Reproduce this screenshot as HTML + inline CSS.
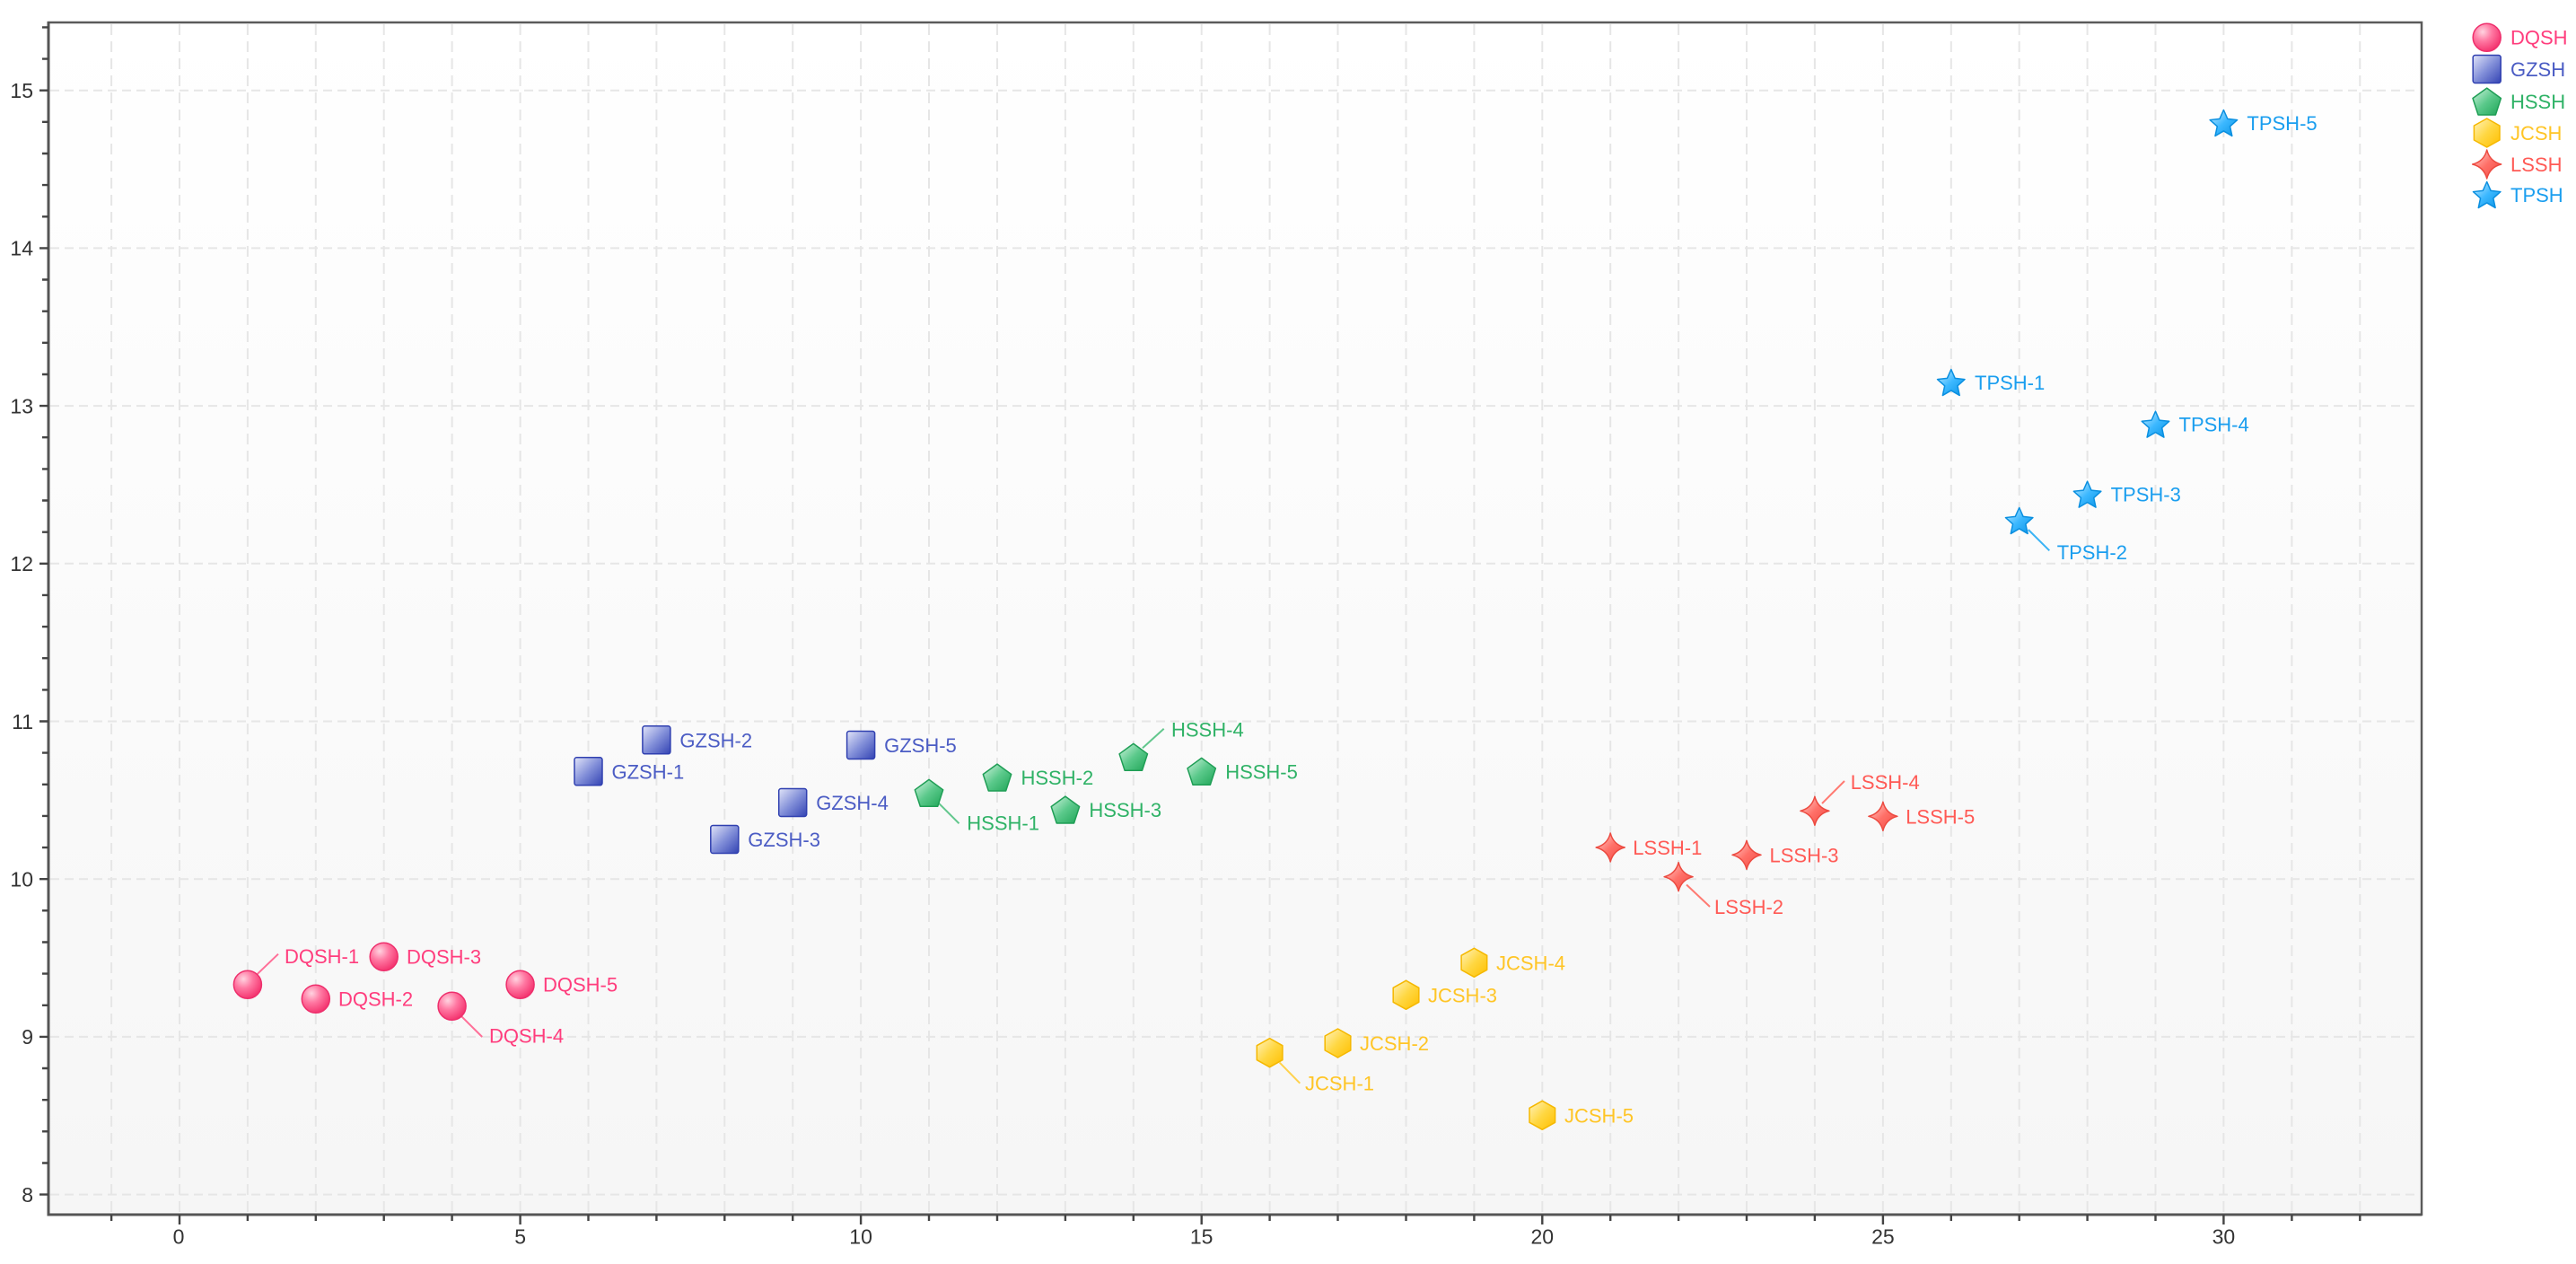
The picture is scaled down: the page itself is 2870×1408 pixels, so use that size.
<!DOCTYPE html>
<html>
<head>
<meta charset="utf-8">
<style>
html,body{margin:0;padding:0;background:#ffffff;}
svg{display:block;}
text{font-family:"Liberation Sans","DejaVu Sans",sans-serif;}
</style>
</head>
<body>
<svg width="2870" height="1408" viewBox="0 0 2870 1408" xmlns="http://www.w3.org/2000/svg">
<defs>
  <linearGradient id="bg" x1="0" y1="0" x2="0" y2="1">
    <stop offset="0" stop-color="#ffffff"/>
    <stop offset="1" stop-color="#f6f6f6"/>
  </linearGradient>
  <radialGradient id="gC" cx="0.35" cy="0.3" r="0.75">
    <stop offset="0" stop-color="#ffd3e0"/>
    <stop offset="0.45" stop-color="#ff78a2"/>
    <stop offset="1" stop-color="#f3306c"/>
  </radialGradient>
  <linearGradient id="gS" x1="0" y1="0" x2="1" y2="1">
    <stop offset="0" stop-color="#e2e5f8"/>
    <stop offset="0.5" stop-color="#8390d9"/>
    <stop offset="1" stop-color="#3343b3"/>
  </linearGradient>
  <linearGradient id="gP" x1="0" y1="0" x2="1" y2="1">
    <stop offset="0" stop-color="#d2f3df"/>
    <stop offset="0.5" stop-color="#5bc98b"/>
    <stop offset="1" stop-color="#1fa557"/>
  </linearGradient>
  <linearGradient id="gH" x1="0" y1="0" x2="1" y2="1">
    <stop offset="0" stop-color="#fff3c0"/>
    <stop offset="0.5" stop-color="#ffd742"/>
    <stop offset="1" stop-color="#ffbf00"/>
  </linearGradient>
  <linearGradient id="gL" x1="0" y1="0" x2="1" y2="1">
    <stop offset="0" stop-color="#ffd6d2"/>
    <stop offset="0.5" stop-color="#ff7068"/>
    <stop offset="1" stop-color="#f04840"/>
  </linearGradient>
  <linearGradient id="gT" x1="0" y1="0" x2="1" y2="1">
    <stop offset="0" stop-color="#cdeeff"/>
    <stop offset="0.5" stop-color="#3cb8ff"/>
    <stop offset="1" stop-color="#0a93e4"/>
  </linearGradient>

  <g id="mC"><circle cx="0" cy="0" r="15.5" fill="url(#gC)" stroke="#ee2f6c" stroke-width="1.5"/></g>
  <g id="mS"><rect x="-15.5" y="-15.5" width="31" height="31" rx="2.5" fill="url(#gS)" stroke="#3040b0" stroke-width="1.5"/></g>
  <g id="mP"><polygon points="0,-14.9 15.69,-3.5 9.7,14.95 -9.7,14.95 -15.69,-3.5" fill="url(#gP)" stroke="#1f9e55" stroke-width="1.5" stroke-linejoin="round"/></g>
  <g id="mH"><polygon points="0,-16 14.3,-8 14.3,8 0,16 -14.3,8 -14.3,-8" fill="url(#gH)" stroke="#f5b800" stroke-width="1.5" stroke-linejoin="round"/></g>
  <g id="mL"><path d="M0,-16 Q3.2,-3.2 16,0 Q3.2,3.2 0,16 Q-3.2,3.2 -16,0 Q-3.2,-3.2 0,-16 Z" fill="url(#gL)" stroke="#ec4a40" stroke-width="1.5" stroke-linejoin="round"/></g>
  <g id="mT"><polygon points="0,-14.5 4.41,-4.57 15.22,-3.44 7.13,3.82 9.4,14.44 0,8.95 -9.4,14.44 -7.13,3.82 -15.22,-3.44 -4.41,-4.57" fill="url(#gT)" stroke="#0a8fe0" stroke-width="1.5" stroke-linejoin="round"/></g>
</defs>

<!-- plot background -->
<rect x="56" y="27" width="2640" height="1323" fill="url(#bg)"/>

<!-- grid: vertical (every unit from -1 to 32) -->
<g stroke="#e6e6e6" stroke-width="2" stroke-dasharray="12 7" fill="none">
  <path d="M124.1,27V1350 M200,27V1350 M275.9,27V1350 M351.8,27V1350 M427.7,27V1350 M503.6,27V1350 M579.6,27V1350 M655.5,27V1350 M731.4,27V1350 M807.3,27V1350 M883.2,27V1350 M959.1,27V1350 M1035.0,27V1350 M1111.0,27V1350 M1186.9,27V1350 M1262.8,27V1350 M1338.7,27V1350 M1414.6,27V1350 M1490.5,27V1350 M1566.5,27V1350 M1642.4,27V1350 M1718.3,27V1350 M1794.2,27V1350 M1870.1,27V1350 M1946.0,27V1350 M2021.9,27V1350 M2097.9,27V1350 M2173.8,27V1350 M2249.7,27V1350 M2325.6,27V1350 M2401.5,27V1350 M2477.4,27V1350 M2553.4,27V1350 M2629.3,27V1350"/>
</g>
<!-- grid: horizontal (8..15) -->
<g stroke="#e6e6e6" stroke-width="2" stroke-dasharray="10 6" fill="none">
  <path d="M56,100.7H2696 M56,276.4H2696 M56,452.1H2696 M56,627.8H2696 M56,803.5H2696 M56,979.2H2696 M56,1154.9H2696 M56,1330.6H2696"/>
</g>

<!-- frame -->
<rect x="54" y="25" width="2644" height="1328" fill="none" stroke="#5a5a5a" stroke-width="2.5"/>
<path d="M54,24V1354.5 M52.5,1353H2698" stroke="#555" stroke-width="3" fill="none"/>

<!-- y ticks -->
<g stroke="#444" stroke-width="2.4">
  <path d="M44,100.7H54 M44,276.4H54 M44,452.1H54 M44,627.8H54 M44,803.5H54 M44,979.2H54 M44,1154.9H54 M44,1330.6H54"/>
  <path d="M47,30.4H54 M47,65.6H54 M47,135.8H54 M47,171H54 M47,206.1H54 M47,241.3H54 M47,311.5H54 M47,346.7H54 M47,381.8H54 M47,417H54 M47,487.2H54 M47,522.4H54 M47,557.5H54 M47,592.7H54 M47,662.9H54 M47,698.1H54 M47,733.2H54 M47,768.4H54 M47,838.6H54 M47,873.8H54 M47,908.9H54 M47,944.1H54 M47,1014.3H54 M47,1049.5H54 M47,1084.6H54 M47,1119.8H54 M47,1190H54 M47,1225.2H54 M47,1260.3H54 M47,1295.5H54"/>
</g>
<!-- x ticks -->
<g stroke="#444" stroke-width="2.4">
  <path d="M200,1353V1364 M579.6,1353V1364 M959.1,1353V1364 M1338.7,1353V1364 M1718.3,1353V1364 M2097.9,1353V1364 M2477.4,1353V1364"/>
  <path d="M124.1,1353V1360 M275.9,1353V1360 M351.8,1353V1360 M427.7,1353V1360 M503.6,1353V1360 M655.5,1353V1360 M731.4,1353V1360 M807.3,1353V1360 M883.2,1353V1360 M1035.0,1353V1360 M1111.0,1353V1360 M1186.9,1353V1360 M1262.8,1353V1360 M1414.6,1353V1360 M1490.5,1353V1360 M1566.5,1353V1360 M1642.4,1353V1360 M1794.2,1353V1360 M1870.1,1353V1360 M1946.0,1353V1360 M2021.9,1353V1360 M2173.8,1353V1360 M2249.7,1353V1360 M2325.6,1353V1360 M2401.5,1353V1360 M2553.4,1353V1360 M2629.3,1353V1360"/>
</g>

<!-- y labels -->
<g font-size="23" fill="#333" text-anchor="end">
  <text x="37" y="109">15</text>
  <text x="37" y="284.7">14</text>
  <text x="37" y="460.4">13</text>
  <text x="37" y="636.1">12</text>
  <text x="37" y="811.8">11</text>
  <text x="37" y="987.5">10</text>
  <text x="37" y="1163.2">9</text>
  <text x="37" y="1338.9">8</text>
</g>
<!-- x labels -->
<g font-size="23" fill="#333" text-anchor="middle">
  <text x="199" y="1385.5">0</text>
  <text x="579.6" y="1385.5">5</text>
  <text x="959.1" y="1385.5">10</text>
  <text x="1338.7" y="1385.5">15</text>
  <text x="1718.3" y="1385.5">20</text>
  <text x="2097.9" y="1385.5">25</text>
  <text x="2477.4" y="1385.5">30</text>
</g>

<!-- leader lines -->
<g stroke-width="2" fill="none">
  <path d="M286,1085.7L310,1062.7" stroke="#ff6f98"/>
  <path d="M513.7,1131.7L537.2,1155" stroke="#ff6f98"/>
  <path d="M1045.5,894.3L1068.5,917.3" stroke="#62c78d"/>
  <path d="M1273,833.3L1296.7,811.7" stroke="#62c78d"/>
  <path d="M1425.7,1183.7L1448.3,1206.7" stroke="#ffd24d"/>
  <path d="M1879,985.5L1905,1010" stroke="#ff7a72"/>
  <path d="M2030,895L2055,870" stroke="#ff7a72"/>
  <path d="M2259.8,590L2283.3,613.3" stroke="#3ab3f5"/>
</g>

<!-- markers -->
<use href="#mC" x="275.9" y="1096.7"/>
<use href="#mC" x="351.8" y="1112.7"/>
<use href="#mC" x="427.7" y="1065.7"/>
<use href="#mC" x="503.6" y="1120.7"/>
<use href="#mC" x="579.6" y="1096.7"/>

<use href="#mS" x="655.5" y="859.3"/>
<use href="#mS" x="731.4" y="824.3"/>
<use href="#mS" x="807.3" y="935"/>
<use href="#mS" x="883.2" y="894"/>
<use href="#mS" x="959.1" y="830"/>

<use href="#mP" x="1035" y="883.3"/>
<use href="#mP" x="1111" y="866"/>
<use href="#mP" x="1186.9" y="902"/>
<use href="#mP" x="1262.8" y="843.3"/>
<use href="#mP" x="1338.7" y="859.3"/>

<use href="#mH" x="1414.6" y="1172.7"/>
<use href="#mH" x="1490.5" y="1162"/>
<use href="#mH" x="1566.5" y="1108.3"/>
<use href="#mH" x="1642.4" y="1072.3"/>
<use href="#mH" x="1718.3" y="1242.3"/>

<use href="#mL" x="1794.2" y="944"/>
<use href="#mL" x="1870.1" y="976.7"/>
<use href="#mL" x="1946" y="952.3"/>
<use href="#mL" x="2021.9" y="903.3"/>
<use href="#mL" x="2097.9" y="909.3"/>

<use href="#mT" x="2173.8" y="426"/>
<use href="#mT" x="2249.7" y="580"/>
<use href="#mT" x="2325.6" y="550.7"/>
<use href="#mT" x="2401.5" y="472.7"/>
<use href="#mT" x="2477.4" y="137"/>

<!-- point labels -->
<g font-size="22">
  <g fill="#ff3d7d">
    <text x="317" y="1073">DQSH-1</text>
    <text x="377" y="1120.7">DQSH-2</text>
    <text x="453" y="1073.7">DQSH-3</text>
    <text x="545" y="1161.5">DQSH-4</text>
    <text x="605" y="1104.7">DQSH-5</text>
  </g>
  <g fill="#4b5cc4">
    <text x="681.5" y="867.3">GZSH-1</text>
    <text x="757.4" y="832.3">GZSH-2</text>
    <text x="833.3" y="943">GZSH-3</text>
    <text x="909.2" y="902">GZSH-4</text>
    <text x="985.1" y="838">GZSH-5</text>
  </g>
  <g fill="#2fb266">
    <text x="1077.3" y="924.7">HSSH-1</text>
    <text x="1137.5" y="874">HSSH-2</text>
    <text x="1213.4" y="910">HSSH-3</text>
    <text x="1305" y="820.3">HSSH-4</text>
    <text x="1365.2" y="867.3">HSSH-5</text>
  </g>
  <g fill="#ffc526">
    <text x="1454" y="1214.7">JCSH-1</text>
    <text x="1515" y="1170">JCSH-2</text>
    <text x="1591" y="1116.3">JCSH-3</text>
    <text x="1667" y="1080.3">JCSH-4</text>
    <text x="1743" y="1250.3">JCSH-5</text>
  </g>
  <g fill="#ff5a55">
    <text x="1819.3" y="952">LSSH-1</text>
    <text x="1910" y="1018">LSSH-2</text>
    <text x="1971.5" y="960.3">LSSH-3</text>
    <text x="2061.7" y="879">LSSH-4</text>
    <text x="2123.2" y="917.3">LSSH-5</text>
  </g>
  <g fill="#1a9eef">
    <text x="2200" y="434">TPSH-1</text>
    <text x="2291.7" y="623">TPSH-2</text>
    <text x="2351.6" y="558.7">TPSH-3</text>
    <text x="2427.5" y="480.7">TPSH-4</text>
    <text x="2503.4" y="145">TPSH-5</text>
  </g>
</g>

<!-- legend -->
<use href="#mC" x="2770.7" y="41.7"/>
<use href="#mS" x="2770.7" y="77"/>
<use href="#mP" x="2770.7" y="113"/>
<use href="#mH" x="2770.7" y="148"/>
<use href="#mL" x="2770.7" y="183"/>
<use href="#mT" x="2770.7" y="217"/>
<g font-size="22">
  <text x="2797" y="49.7" fill="#ff3d7d">DQSH</text>
  <text x="2797" y="85" fill="#4b5cc4">GZSH</text>
  <text x="2797" y="121" fill="#2fb266">HSSH</text>
  <text x="2797" y="156" fill="#ffc526">JCSH</text>
  <text x="2797" y="191" fill="#ff5a55">LSSH</text>
  <text x="2797" y="225" fill="#1a9eef">TPSH</text>
</g>
</svg>
</body>
</html>
